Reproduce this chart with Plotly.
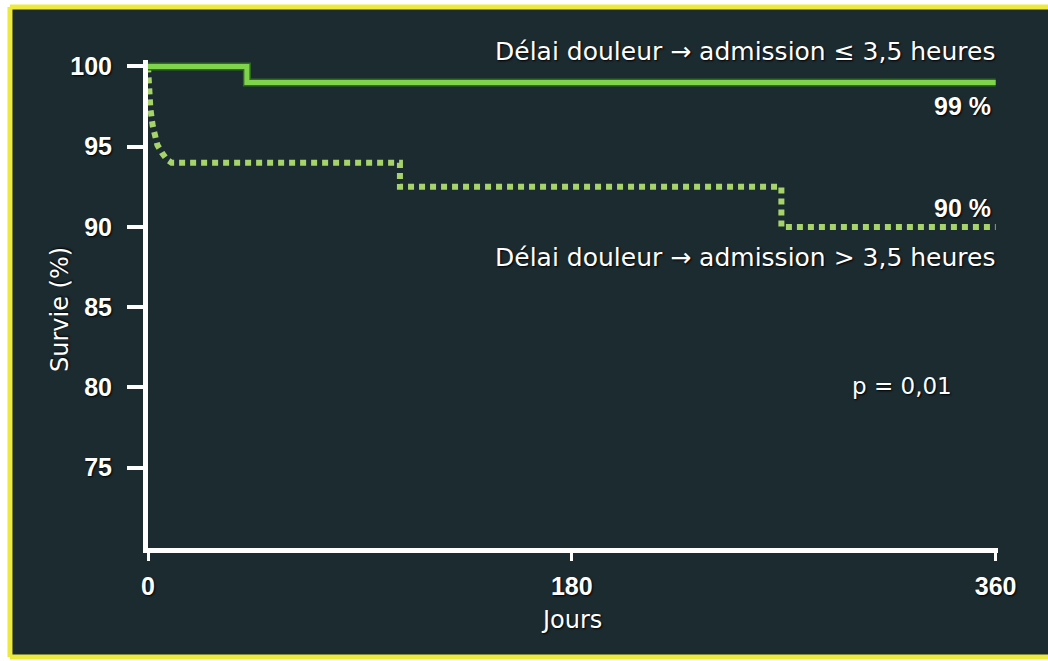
import plotly.graph_objects as go

# ---- data ----
days_short = [0, 42, 360]             # <= 3.5 h group: event times
surv_short = [100, 99, 99]
days_long_early = [0, 0.5, 1, 2, 3, 4, 6, 8, 10]      # dense early drop (> 3.5 h)
surv_long_early = [100, 98.6, 97.4, 96.3, 95.6, 95.1, 94.6, 94.2, 94.0]
days_long_steps = [107, 269, 360]
surv_long_steps = [92.5, 90.0, 90.0]

y_ticks = [75, 80, 85, 90, 95, 100]
x_ticks = [0, 180, 360]

label_short = "Délai douleur → admission ≤ 3,5 heures"
label_long = "Délai douleur → admission > 3,5 heures"
pct_short = "99 %"
pct_long = "90 %"
p_text = "p = 0,01"

# ---- build step coordinates ----
def steps(xs, ys, x0, y0):
    ox, oy = [x0], [y0]
    prev = y0
    for x, y in zip(xs, ys):
        ox += [x, x]
        oy += [prev, y]
        prev = y
    return ox, oy

sx, sy = steps(days_short[1:], surv_short[1:], days_short[0], surv_short[0])
lx_s, ly_s = steps(days_long_steps, surv_long_steps, days_long_early[-1], surv_long_early[-1])
lx = days_long_early + lx_s[1:]
ly = surv_long_early + ly_s[1:]

BG = "#1c2b30"
YEL = "#eeea3c"
fig = go.Figure()
fig.add_trace(go.Scatter(x=lx, y=ly, mode="lines",
                         line=dict(color="#a6d46a", width=6, dash="6px,5px"),
                         hoverinfo="skip", showlegend=False))
fig.add_trace(go.Scatter(x=sx, y=sy, mode="lines",
                         line=dict(color="#2f6b22", width=8),
                         hoverinfo="skip", showlegend=False))
fig.add_trace(go.Scatter(x=sx, y=sy, mode="lines",
                         line=dict(color="#80d44c", width=5),
                         hoverinfo="skip", showlegend=False))

comic = "DejaVu Sans, sans-serif"
shadow = "1px 1px 2px #000"
tfont = dict(family=comic, size=25, color="white", shadow=shadow)
bfont = dict(family="Arial, Liberation Sans, sans-serif", size=25, color="white",
             weight="bold", shadow=shadow)

ann = []
ann.append(dict(x=360.5, y=1.0164, xref="x", yref="paper", text=label_short,
                xanchor="right", yanchor="middle", showarrow=False, font=tfont))
ann.append(dict(x=359, y=0.9057, xref="x", yref="paper", text=pct_short,
                xanchor="right", yanchor="middle", showarrow=False, font=bfont))
ann.append(dict(x=359, y=0.6967, xref="x", yref="paper", text=pct_long,
                xanchor="right", yanchor="middle", showarrow=False, font=bfont))
ann.append(dict(x=360.5, y=0.5943, xref="x", yref="paper", text=label_long,
                xanchor="right", yanchor="middle", showarrow=False, font=tfont))
ann.append(dict(x=0.887, y=0.332, xref="paper", yref="paper", text=p_text,
                xanchor="center", yanchor="middle", showarrow=False,
                font=dict(family=comic, size=23, color="white", shadow=shadow)))
ann.append(dict(x=-0.1035, y=0.4877, xref="paper", yref="paper", text="Survie (%)",
                textangle=-90, xanchor="center", yanchor="middle", showarrow=False,
                font=dict(family=comic, size=24, color="white", shadow=shadow)))
ann.append(dict(x=180, y=-0.1475, xref="x", yref="paper", text="Jours",
                xanchor="center", yanchor="middle", showarrow=False,
                font=dict(family=comic, size=24, color="white", shadow=shadow)))

L, R, B, T = -0.1624, 1.06, -0.2234, 1.1086
shapes = [
    dict(type="rect", xref="paper", yref="paper", x0=L, x1=R, y0=B, y1=T,
         fillcolor=BG, line=dict(width=0), layer="below"),
    dict(type="line", xref="paper", yref="paper", x0=L, x1=L, y0=B, y1=T,
         line=dict(color=YEL, width=5), layer="below"),
    dict(type="line", xref="paper", yref="paper", x0=L, x1=R, y0=T, y1=T,
         line=dict(color=YEL, width=5), layer="below"),
    dict(type="line", xref="paper", yref="paper", x0=L, x1=R, y0=B, y1=B,
         line=dict(color=YEL, width=5), layer="below"),
]

fig.update_layout(
    width=1048, height=661,
    margin=dict(l=148, r=50, t=60, b=113),
    paper_bgcolor="white",
    plot_bgcolor=BG,
    showlegend=False,
    annotations=ann,
    shapes=shapes,
    xaxis=dict(range=[0, 361], tickvals=x_ticks, ticktext=[str(v) for v in x_ticks],
               showgrid=False, zeroline=False, showline=True, linecolor="white",
               linewidth=5, ticks="outside", ticklen=8, tickwidth=3, tickcolor="white",
               ticklabelstandoff=4, tickfont=bfont),
    yaxis=dict(range=[70, 100.4], tickvals=y_ticks, ticktext=[str(v) for v in y_ticks],
               showgrid=False, zeroline=False, showline=True, linecolor="white",
               linewidth=5, ticks="outside", ticklen=16, tickwidth=4, tickcolor="white",
               ticklabelstandoff=10, tickfont=bfont),
)

fig.write_html("out.html", config={"displayModeBar": False},
               post_script="document.body.style.margin='0';")
